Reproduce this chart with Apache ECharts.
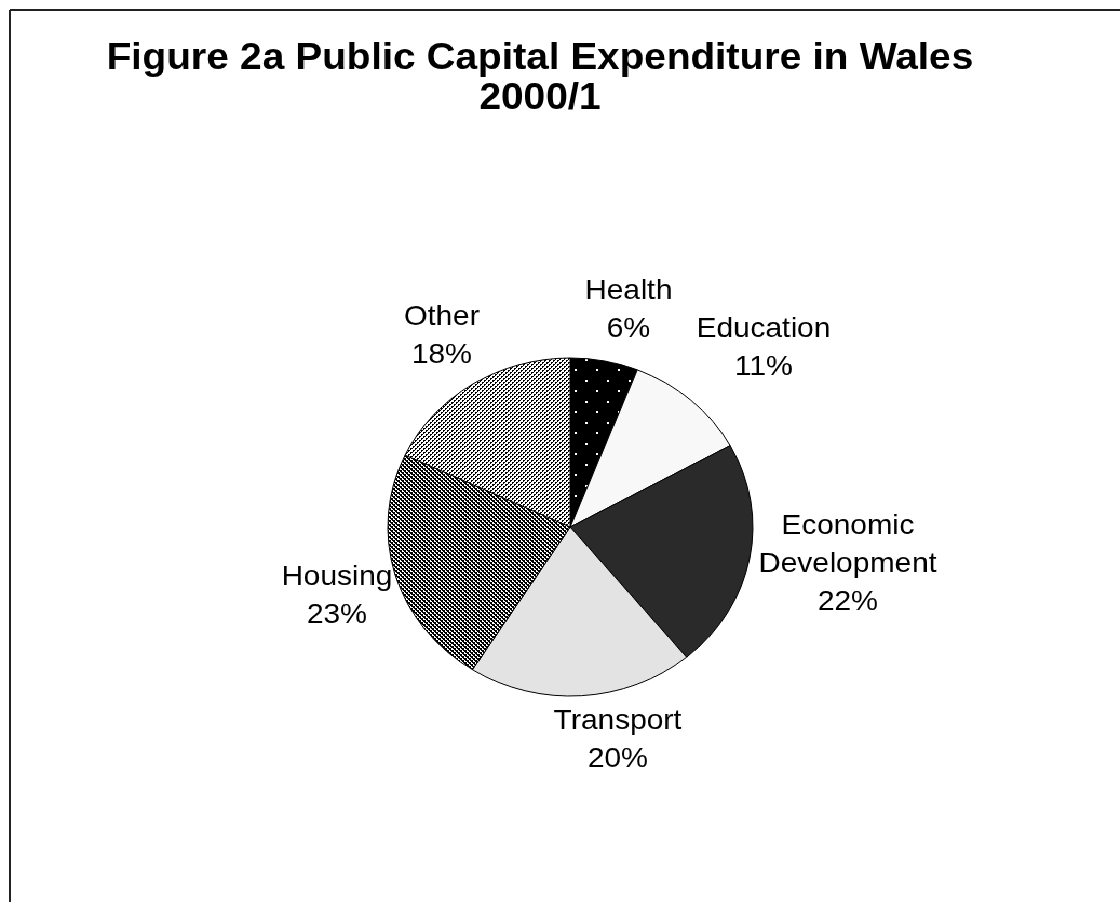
<!DOCTYPE html>
<html>
<head>
<meta charset="utf-8">
<title>Public Capital Expenditure in Wales 2000/1</title>
<script src="https://cdn.jsdelivr.net/npm/echarts@6/dist/echarts.min.js"></script>
<style>
  html, body { margin: 0; padding: 0; background: #ffffff; overflow: hidden; }
  /* the chart is drawn narrower and widened to the page, giving the stretched pie and type */
  #chart { width: 1037px; height: 902px; transform: scaleX(1.0800); transform-origin: 0 0; }
  #chart canvas { image-rendering: pixelated; }
</style>
</head>
<body>
<div id="chart"></div>
<script>
// Spending shares by area, percent of total
const categories = ['Health', 'Education', 'Economic\nDevelopment', 'Transport', 'Housing', 'Other'];
const shares = [6, 11, 22, 20, 23, 18];
const titleLines = ['Figure 2a Public Capital Expenditure in Wales', '2000/1'];

// Layout (in the chart's own, unstretched coordinates)
const CENTER = [528, 527];
const RADIUS = 169;
// label box centres, relative to the pie centre
const LABEL_OFFSET = [[54, -217], [179, -179], [257, 37], [44, 213], [-216, 69], [-119, -191]];

// Fill patterns drawn on small tiles
function tile(w, h, draw) {
  const c = document.createElement('canvas');
  c.width = w; c.height = h;
  const ctx = c.getContext('2d');
  draw(ctx);
  return { image: c, repeat: 'repeat' };
}
const dotted = tile(20, 21, ctx => {
  ctx.fillStyle = '#000'; ctx.fillRect(0, 0, 20, 21);
  ctx.fillStyle = '#fff';
  ctx.fillRect(2, 2, 2, 2);
  ctx.fillRect(12, 12, 2, 2);
});
// Housing: bold black-and-white checks
const denseChecker = tile(4, 4, ctx => {
  ctx.fillStyle = '#fff'; ctx.fillRect(0, 0, 4, 4);
  ctx.fillStyle = '#000';
  ctx.fillRect(0, 0, 2, 2);
  ctx.fillRect(2, 2, 2, 2);
  ctx.fillRect(1, 2, 1, 1);
  ctx.fillRect(3, 0, 1, 1);
});
// Other: lighter, open checks
const lightChecker = tile(4, 4, ctx => {
  ctx.fillStyle = '#fff'; ctx.fillRect(0, 0, 4, 4);
  ctx.fillStyle = '#000';
  [[0, 0], [1, 0], [0, 1], [2, 2], [3, 2], [2, 3]].forEach(([x, y]) => ctx.fillRect(x, y, 1, 1));
});
const fills = [dotted, '#f8f8f8', '#2a2a2a', '#e3e3e3', denseChecker, lightChecker];

const chart = echarts.init(document.getElementById('chart'), null, { renderer: 'canvas' });

const FONT = '"Liberation Sans", Arial, sans-serif';

chart.setOption({
  backgroundColor: '#ffffff',
  animation: false,
  graphic: [
    // frame: only the top and left edges fall inside the view
    { type: 'line', shape: { x1: 9, y1: 10, x2: 1037, y2: 10 }, style: { stroke: '#222', lineWidth: 2 }, silent: true },
    { type: 'line', shape: { x1: 9, y1: 10, x2: 9, y2: 902 }, style: { stroke: '#222', lineWidth: 2 }, silent: true },
    { type: 'text', style: { text: titleLines[0], x: 500, y: 59, align: 'center', verticalAlign: 'middle',
      font: 'bold 37px ' + FONT, fill: '#000' } },
    { type: 'text', style: { text: titleLines[1], x: 500, y: 99, align: 'center', verticalAlign: 'middle',
      font: 'bold 37px ' + FONT, fill: '#000' } }
  ],
  series: [{
    type: 'pie',
    center: CENTER,
    radius: RADIUS,
    startAngle: 90,
    clockwise: true,
    data: categories.map((name, i) => ({
      name, value: shares[i],
      itemStyle: { color: fills[i] }
    })),
    itemStyle: { borderColor: '#000', borderWidth: 1 },
    label: {
      show: true,
      position: 'outside',
      formatter: p => p.name + '\n' + p.value + '%',
      fontFamily: FONT,
      fontSize: 28,
      lineHeight: 38,
      color: '#000',
      align: 'center'
    },
    labelLine: { show: false },
    labelLayout: p => ({
      x: CENTER[0] + LABEL_OFFSET[p.dataIndex][0],
      y: CENTER[1] + LABEL_OFFSET[p.dataIndex][1],
      align: 'center',
      verticalAlign: 'middle'
    }),
    emphasis: { disabled: true }
  }]
});
</script>
</body>
</html>
